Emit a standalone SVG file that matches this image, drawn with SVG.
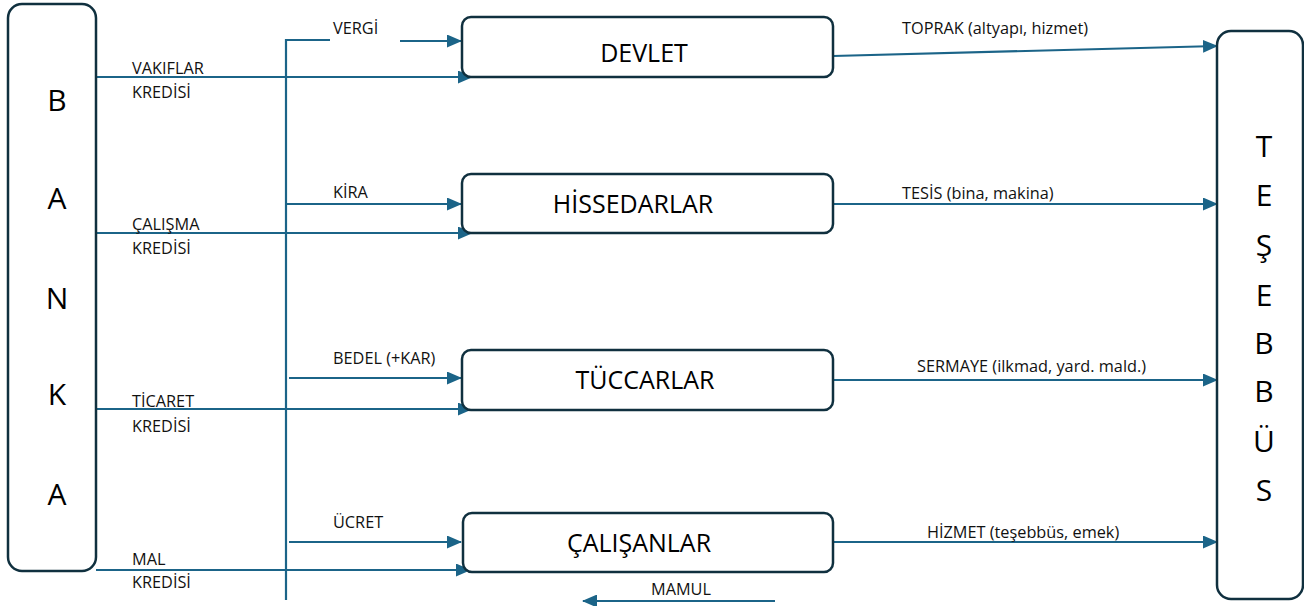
<svg xmlns="http://www.w3.org/2000/svg" width="1304" height="606" viewBox="0 0 1304 606">
<style>
.box{fill:#fff;stroke:#10303f;stroke-width:2.5}
.ln{fill:none;stroke:#1b6488;stroke-width:2.2}
.big{font-family:"Open Sans","Liberation Sans",sans-serif;font-size:30px;fill:#000;text-anchor:middle}
.nm{font-family:"Open Sans","Liberation Sans",sans-serif;font-size:25px;fill:#000;text-anchor:middle}
.lb{font-family:"Open Sans","Liberation Sans",sans-serif;font-size:16.3px;fill:#111}
</style>
<defs>
<marker id="ah" markerWidth="15" markerHeight="13" refX="14" refY="6.5" orient="auto" markerUnits="userSpaceOnUse">
<path d="M0,0 L15,6.5 L0,13 Z" fill="#1b6488"/>
</marker>
</defs>
<rect width="1304" height="606" fill="#fff"/>
<g id="connectors">
<path class="ln" d="M286,600 V40 H330"/>
<path class="ln" d="M400,41 H461" marker-end="url(#ah)"/>
<path class="ln" d="M96,77 H472" marker-end="url(#ah)"/>
<path class="ln" d="M833,56 L1217,46" marker-end="url(#ah)"/>
<path class="ln" d="M286,204 H461" marker-end="url(#ah)"/>
<path class="ln" d="M96,233 H472" marker-end="url(#ah)"/>
<path class="ln" d="M833,204 H1217" marker-end="url(#ah)"/>
<path class="ln" d="M289,378 H461" marker-end="url(#ah)"/>
<path class="ln" d="M96,409 H472" marker-end="url(#ah)"/>
<path class="ln" d="M833,380 H1217" marker-end="url(#ah)"/>
<path class="ln" d="M289,542 H461" marker-end="url(#ah)"/>
<path class="ln" d="M96,570 H470" marker-end="url(#ah)"/>
<path class="ln" d="M833,542 H1217" marker-end="url(#ah)"/>
<path class="ln" d="M775,601 H583" marker-end="url(#ah)"/>
</g>
<g id="banka">
<rect class="box" x="8" y="4" width="88" height="567" rx="14"/>
<text class="big" x="57" y="111">B</text>
<text class="big" x="57" y="209">A</text>
<text class="big" x="57" y="309">N</text>
<text class="big" x="57" y="405">K</text>
<text class="big" x="57" y="505">A</text>
</g>
<g id="tesebbus">
<rect class="box" x="1217" y="31" width="86" height="568" rx="14"/>
<text class="big" x="1264" y="157">T</text>
<text class="big" x="1264" y="206">E</text>
<text class="big" x="1264" y="256">Ş</text>
<text class="big" x="1264" y="306">E</text>
<text class="big" x="1264" y="354">B</text>
<text class="big" x="1264" y="402">B</text>
<text class="big" x="1264" y="452">Ü</text>
<text class="big" x="1264" y="501">S</text>
</g>
<g id="devlet">
<rect class="box" x="462" y="17" width="371" height="60" rx="9"/>
<text class="nm" x="644" y="62">DEVLET</text>
</g>
<g id="hissedarlar">
<rect class="box" x="462" y="174" width="371" height="59" rx="9"/>
<text class="nm" x="633" y="213">HİSSEDARLAR</text>
</g>
<g id="tuccarlar">
<rect class="box" x="462" y="350" width="371" height="60" rx="9"/>
<text class="nm" x="645" y="389">TÜCCARLAR</text>
</g>
<g id="calisanlar">
<rect class="box" x="463" y="513" width="370" height="59" rx="9"/>
<text class="nm" x="639" y="552">ÇALIŞANLAR</text>
</g>
<g id="labels">
<text class="lb" x="333" y="34">VERGİ</text>
<text class="lb" x="132" y="74">VAKIFLAR</text>
<text class="lb" x="132" y="98">KREDİSİ</text>
<text class="lb" x="902" y="34">TOPRAK (altyapı, hizmet)</text>
<text class="lb" x="333" y="198">KİRA</text>
<text class="lb" x="132" y="230">ÇALIŞMA</text>
<text class="lb" x="132" y="254">KREDİSİ</text>
<text class="lb" x="902" y="199">TESİS (bina, makina)</text>
<text class="lb" x="333" y="364">BEDEL (+KAR)</text>
<text class="lb" x="132" y="407">TİCARET</text>
<text class="lb" x="132" y="432">KREDİSİ</text>
<text class="lb" x="917" y="372">SERMAYE (ilkmad, yard. mald.)</text>
<text class="lb" x="333" y="528">ÜCRET</text>
<text class="lb" x="132" y="565">MAL</text>
<text class="lb" x="132" y="588">KREDİSİ</text>
<text class="lb" x="927" y="538">HİZMET (teşebbüs, emek)</text>
<text class="lb" x="651" y="595">MAMUL</text>
</g>
</svg>
